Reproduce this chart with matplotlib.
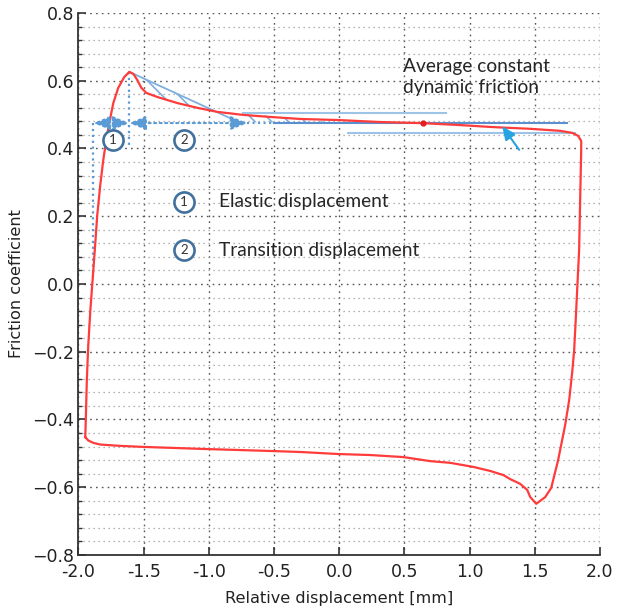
import numpy as np
import matplotlib
matplotlib.use("Agg")
from matplotlib import pyplot as plt
import matplotlib.ticker as ticker

# friction loop (relative displacement [mm], friction coefficient)
loop_x = [-1.948, -1.944, -1.936, -1.925, -1.909, -1.894, -1.875, -1.856, -1.833, -1.810,
          -1.787, -1.764, -1.733, -1.695, -1.649, -1.610, -1.579, -1.549, -1.518, -1.480,
          -1.396, -1.242, -1.089, -0.936, -0.736, -0.529, -0.299, -0.015, 0.314, 0.621,
          0.928, 1.181, 1.465, 1.695, 1.787, 1.833, 1.856, 1.856, 1.848, 1.840,
          1.825, 1.814, 1.802, 1.787, 1.764, 1.733, 1.679, 1.626, 1.580, 1.511,
          1.465, 1.442, 1.388, 1.311, 1.258, 1.158, 1.028, 0.851, 0.698, 0.491,
          0.238, -0.008, -0.299, -0.529, -1.043, -1.503, -1.679, -1.833, -1.887, -1.925,
          -1.948]
loop_y = [-0.452, -0.401, -0.283, -0.180, -0.077, 0.000, 0.100, 0.204, 0.292, 0.366,
          0.425, 0.475, 0.534, 0.579, 0.611, 0.626, 0.620, 0.602, 0.579, 0.564,
          0.552, 0.534, 0.520, 0.508, 0.499, 0.493, 0.487, 0.484, 0.478, 0.475,
          0.469, 0.463, 0.458, 0.452, 0.446, 0.437, 0.422, 0.396, 0.248, 0.100,
          -0.018, -0.106, -0.195, -0.260, -0.342, -0.416, -0.520, -0.602, -0.629, -0.649,
          -0.629, -0.608, -0.590, -0.576, -0.564, -0.552, -0.540, -0.528, -0.523, -0.511,
          -0.505, -0.502, -0.496, -0.493, -0.487, -0.481, -0.478, -0.474, -0.469, -0.462,
          -0.452]

peak = (-1.610, 0.626)
slip_start = -1.885        # start of elastic displacement
transition_end = -0.705    # end of transition displacement
mu_avg = 0.475             # average constant dynamic friction
mu_avg_point = (0.644, 0.476)
band_upper = 0.504
band_lower = 0.447

red = "#ff3b3b"
blue = "#5b9bd5"
light = "#7eaede"
ring = "#41719c"

plt.rcParams["hatch.linewidth"] = 1.2

fig = plt.figure(figsize=(6.22, 6.11), dpi=100)
ax = fig.add_axes([0.1262, 0.0917, 0.8384, 0.8871])

ax.set_xlim(-2.0, 2.0)
ax.set_ylim(-0.8, 0.8)
ax.xaxis.set_major_locator(ticker.MultipleLocator(0.5))
ax.yaxis.set_major_locator(ticker.MultipleLocator(0.2))
ax.yaxis.set_minor_locator(ticker.MultipleLocator(0.04))
ax.xaxis.set_major_formatter(ticker.FormatStrFormatter("%.1f"))
ax.yaxis.set_major_formatter(ticker.FuncFormatter(lambda v, p: ("%.1f" % v).replace("-", "\u2212")))

ax.grid(which="major", linestyle=(0, (1.2, 3)), color="#555555", linewidth=1.0)
ax.grid(which="minor", axis="y", linestyle=(0, (1, 3)), color="#9a9a9a", linewidth=0.9)
ax.set_axisbelow(True)

for s in ["top", "right"]:
    ax.spines[s].set_visible(False)
for s in ["left", "bottom"]:
    ax.spines[s].set_color("#333333")
    ax.spines[s].set_linewidth(1.3)
ax.tick_params(which="both", direction="in", color="#333333", labelsize=12.5, labelcolor="#222222")
ax.tick_params(which="major", length=6, width=1.2)
ax.tick_params(which="minor", length=3, width=1.0)
ax.tick_params(axis="y", pad=3)
ax.tick_params(axis="x", pad=6)
ax.tick_params(axis="y", which="both", right=False)
ax.tick_params(axis="x", which="both", top=False)

ax.set_xlabel("Relative displacement [mm]", fontsize=11.6, color="#222222", labelpad=7)
ax.set_ylabel("Friction coefficient", fontsize=11.6, color="#222222", labelpad=6)

# loop
ax.plot(loop_x, loop_y, color=red, linewidth=1.6, zorder=5)

# hatched area between the peak decay and a straight line
i_peak = int(np.argmax(loop_y))
xs = np.array(loop_x[i_peak:i_peak + 12])
ys = np.array(loop_y[i_peak:i_peak + 12])
hyp_end = transition_end - 0.05
slope = (mu_avg - peak[1]) / (hyp_end - peak[0])
hyp = peak[1] + slope * (xs - peak[0])
ax.fill_between(xs, ys, hyp, where=hyp >= ys, interpolate=True, facecolor="none",
                edgecolor=light, hatch="\\\\", linewidth=0, zorder=3)
ax.plot([peak[0], hyp_end], [peak[1], mu_avg], color=light, linewidth=1.3, zorder=3)
ax.fill([transition_end - 0.03, -0.05, transition_end - 0.03],
        [band_upper, mu_avg + 0.002, mu_avg + 0.002], facecolor="none",
        edgecolor=light, hatch="\\\\", linewidth=0, zorder=3)

# band lines and average friction
ax.plot([transition_end - 0.03, 0.82], [band_upper, band_upper], color="#9dc3e6", linewidth=1.5, zorder=3)
ax.plot([0.07, 1.81], [band_lower, band_lower], color="#9dc3e6", linewidth=1.5, zorder=3)
ax.plot([transition_end, -0.5], [mu_avg, mu_avg], color=blue, linewidth=1.5, linestyle=":", zorder=4)
ax.plot([-0.5, 1.75], [mu_avg, mu_avg], color="#5b8fd0", linewidth=1.5, zorder=4)
ax.plot(*mu_avg_point, "o", color="#e02020", markersize=3.5, zorder=6)

# vertical markers
ax.plot([slip_start, slip_start], [mu_avg, 0.02], color=blue, linestyle=":", linewidth=1.6, zorder=4)
ax.plot([peak[0], peak[0]], [peak[1], 0.40], color=blue, linestyle=":", linewidth=1.6, zorder=4)

arrow_style = "<|-|>,head_length=1.0,head_width=0.42"
for x0, x1 in [(slip_start, peak[0]), (peak[0], transition_end)]:
    ax.annotate("", xy=(x1, mu_avg), xytext=(x0, mu_avg),
                arrowprops=dict(arrowstyle=arrow_style, color=blue, linestyle=":",
                                linewidth=1.5, shrinkA=0, shrinkB=0), zorder=6)

ax.annotate("", xy=(1.25, 0.466), xytext=(1.38, 0.396),
            arrowprops=dict(arrowstyle="-|>,head_length=0.8,head_width=0.35",
                            color="#27a2e2", linewidth=1.5, shrinkA=0, shrinkB=0), zorder=6)

# circled labels
marks = [(-1.735, 0.425, "1"), (-1.19, 0.425, "2"), (-1.19, 0.243, "1"), (-1.19, 0.100, "2")]
for mx, my, s in marks:
    ax.plot(mx, my, "o", markersize=14.5, markerfacecolor="white",
            markeredgecolor=ring, markeredgewidth=1.9, zorder=7)
    ax.text(mx, my, s, ha="center", va="center", fontsize=9.5, family="Lato",
            color="#333333", zorder=8)

text_kw = dict(family="Lato", fontsize=13.8, color="#262626", zorder=8)
ax.text(-0.92, 0.243, "Elastic displacement", va="center", **text_kw)
ax.text(-0.92, 0.100, "Transition displacement", va="center", **text_kw)
ax.text(0.49, 0.668, "Average constant\ndynamic friction", va="top", linespacing=1.3, **text_kw)

fig.savefig("out.png", dpi=100)
